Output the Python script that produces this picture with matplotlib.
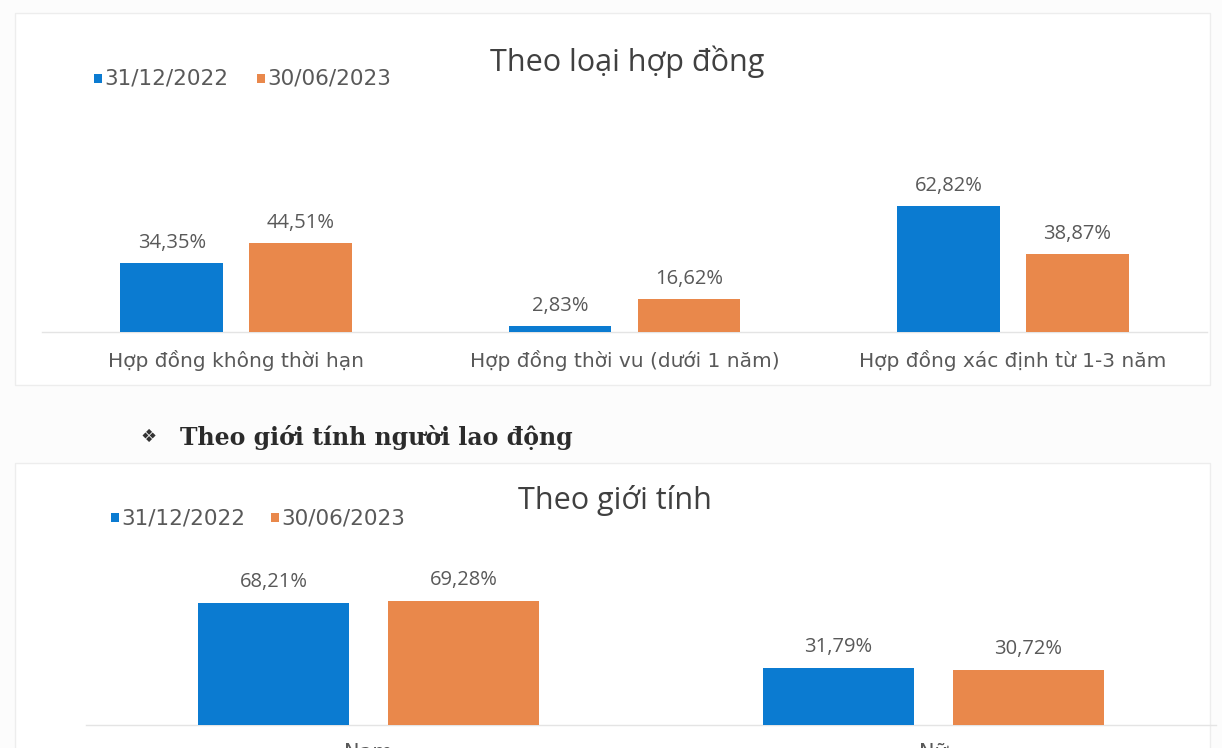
import matplotlib
matplotlib.use("Agg")
import matplotlib.pyplot as plt
from matplotlib.patches import Rectangle

# ---- data ----
series_names = ["31/12/2022", "30/06/2023"]
contract_types = ["Hợp đồng không thời hạn", "Hợp đồng thời vu (dưới 1 năm)",
                  "Hợp đồng xác định từ 1-3 năm"]
contract_2022 = [34.35, 2.83, 62.82]
contract_2023 = [44.51, 16.62, 38.87]
genders = ["Nam", "Nữ"]
gender_2022 = [68.21, 31.79]
gender_2023 = [69.28, 30.72]

BLUE = "#0b7bd1"
ORANGE = "#e9884b"
TEXT = "#595959"

W, H = 1222, 748
fig = plt.figure(figsize=(W / 100, H / 100), dpi=100, facecolor="#fcfcfc")


def px_axes(left, top, right, bottom):
    """Axes placed by pixel edges measured from the top-left corner."""
    ax = fig.add_axes([left / W, 1 - bottom / H, (right - left) / W, (bottom - top) / H])
    ax.set_zorder(2)
    return ax


def fmt(v):
    return f"{v:.2f}".replace(".", ",") + "%"


def draw_bars(ax, cats, a, b, width, offset, lab_size, cat_size, pad, gap):
    x = list(range(len(cats)))
    ax.bar([i - offset for i in x], a, width, color=BLUE, zorder=3)
    ax.bar([i + offset for i in x], b, width, color=ORANGE, zorder=3)
    for i in x:
        ax.text(i - offset, a[i] + gap, fmt(a[i]), ha="center", va="bottom",
                fontsize=lab_size, color=TEXT, family="Open Sans")
        ax.text(i + offset, b[i] + gap, fmt(b[i]), ha="center", va="bottom",
                fontsize=lab_size, color=TEXT, family="Open Sans")
    ax.set_xlim(-0.5, len(cats) - 0.5)
    ax.set_ylim(0, 100)
    ax.set_xticks(x)
    ax.set_xticklabels(cats, fontsize=cat_size, color=TEXT, family="DejaVu Sans")
    ax.tick_params(axis="x", length=0, pad=pad)
    ax.set_yticks([])
    for s in ["top", "left", "right"]:
        ax.spines[s].set_visible(False)
    ax.spines["bottom"].set_color("#e4e4e4")
    ax.spines["bottom"].set_linewidth(1)
    ax.patch.set_alpha(0)


# panel backgrounds
for (x0, y0, w, h) in [(15, 13, 1195, 372), (15, 463, 1195, 290)]:
    fig.patches.append(Rectangle((x0 / W, 1 - (y0 + h) / H), w / W, h / H,
                                 transform=fig.transFigure, facecolor="white",
                                 edgecolor="#ededed", linewidth=1, zorder=-1))

# ---- top chart: contract type ----
ax1 = px_axes(42, 132, 1207, 332)
draw_bars(ax1, contract_types, contract_2022, contract_2023,
          width=0.265, offset=0.166, lab_size=14.5, cat_size=14.5, pad=13, gap=5)
fig.text(627 / W, 1 - 62 / H, "Theo loại hợp đồng", ha="center", va="center",
         fontsize=22, color="#404040", family="Open Sans")

# ---- bottom chart: gender ----
ax2 = px_axes(86, 546, 1216, 725)
draw_bars(ax2, genders, gender_2022, gender_2023,
          width=0.267, offset=0.168, lab_size=14.5, cat_size=15, pad=13, gap=6)
fig.text(615 / W, 1 - 500 / H, "Theo giới tính", ha="center", va="center",
         fontsize=22, color="#404040", family="Open Sans")


def legend(x0, y, x1):
    for xm, name, col in [(x0, series_names[0], BLUE), (x1, series_names[1], ORANGE)]:
        fig.patches.append(Rectangle(((xm - 4) / W, 1 - (y + 4) / H), 8 / W, 9 / H,
                                     transform=fig.transFigure, facecolor=col,
                                     edgecolor="none", zorder=3))
        fig.text((xm + 6) / W, 1 - y / H, name, ha="left", va="center",
                 fontsize=15.5, color=TEXT, family="DejaVu Sans")


legend(98, 79, 261)
legend(115, 518, 275)

# section heading between the two charts
fig.text(140 / W, 1 - 437 / H, "❖", ha="left", va="center", fontsize=13,
         color="#333333", family="DejaVu Sans")
fig.text(180 / W, 1 - 437 / H, "Theo giới tính người lao động", ha="left",
         va="center", fontsize=17, fontweight="bold", color="#2b2b2b",
         family="DejaVu Serif")

fig.savefig("out.png", dpi=100, facecolor=fig.get_facecolor())
